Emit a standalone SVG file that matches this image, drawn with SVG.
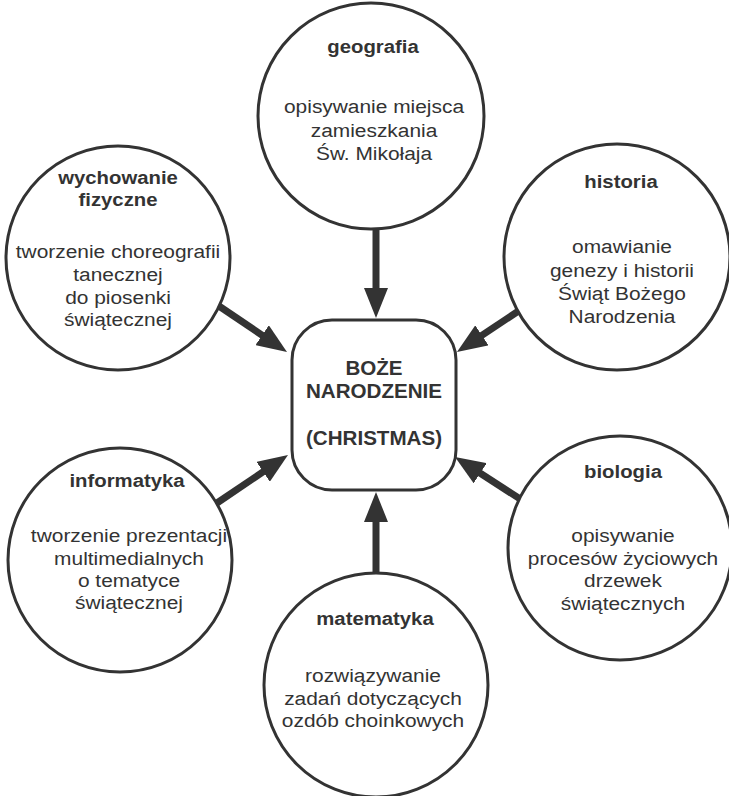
<svg xmlns="http://www.w3.org/2000/svg" width="729" height="796" viewBox="0 0 729 796">
<style>
.c{fill:#fff;stroke:#333;stroke-width:3}
.t{font-family:"Liberation Sans",Arial,sans-serif;font-size:19px;fill:#333;text-anchor:middle}
.h{font-weight:bold}
.k{font-family:"Liberation Sans",Arial,sans-serif;font-size:20px;font-weight:bold;fill:#333;text-anchor:middle}
.a{stroke:#333;stroke-width:7;fill:none;marker-end:url(#ah)}
</style>
<defs>
<marker id="ah" markerUnits="userSpaceOnUse" markerWidth="30" markerHeight="24" refX="10" refY="12" orient="auto">
<path d="M0,0 L30,12 L0,24 z" fill="#333"/>
</marker>
</defs>
<rect width="729" height="796" fill="#fff"/>
<g id="connectors">
<line class="a" x1="376" y1="200" x2="376" y2="298"/>
<line class="a" x1="376" y1="600" x2="376" y2="512"/>
<line class="a" x1="210" y1="300" x2="270.4" y2="340.8"/>
<line class="a" x1="532" y1="302" x2="473.6" y2="340.9"/>
<line class="a" x1="214" y1="505" x2="271.4" y2="466.2"/>
<line class="a" x1="534" y1="508" x2="471.8" y2="467.8"/>
</g>
<g id="center">
<rect class="c" x="292" y="320" width="164" height="170" rx="40"/>
<g transform="translate(374,0) scale(1.03,1)">
<text class="k" x="0" y="375">BOŻE</text>
<text class="k" x="0" y="398">NARODZENIE</text>
<text class="k" x="0" y="445">(CHRISTMAS)</text>
</g>
</g>
<g id="geografia">
<circle class="c" cx="371" cy="116" r="113"/>
<g transform="translate(373,0) scale(1.07,1)"><text class="t h" x="0" y="53">geografia</text></g>
<g transform="translate(374,0) scale(1.1,1)">
<text class="t" x="0" y="113">opisywanie miejsca</text>
<text class="t" x="0" y="137">zamieszkania</text>
<text class="t" x="0" y="160">Św. Mikołaja</text>
</g>
</g>
<g id="wychowanie">
<circle class="c" cx="118" cy="258" r="112"/>
<g transform="translate(118,0) scale(1.07,1)">
<text class="t h" x="0" y="184">wychowanie</text>
<text class="t h" x="0" y="206">fizyczne</text>
</g>
<g transform="translate(118,0) scale(1.1,1)">
<text class="t" x="0" y="258">tworzenie choreografii</text>
<text class="t" x="0" y="281">tanecznej</text>
<text class="t" x="0" y="304">do piosenki</text>
<text class="t" x="0" y="326">świątecznej</text>
</g>
</g>
<g id="historia">
<circle class="c" cx="617" cy="257" r="113"/>
<g transform="translate(621,0) scale(1.07,1)"><text class="t h" x="0" y="188">historia</text></g>
<g transform="translate(622,0) scale(1.1,1)">
<text class="t" x="0" y="253">omawianie</text>
<text class="t" x="0" y="277">genezy i historii</text>
<text class="t" x="0" y="300">Świąt Bożego</text>
<text class="t" x="0" y="323">Narodzenia</text>
</g>
</g>
<g id="informatyka">
<circle class="c" cx="120" cy="560" r="112"/>
<g transform="translate(127,0) scale(1.07,1)"><text class="t h" x="0" y="487">informatyka</text></g>
<g transform="translate(129,0) scale(1.1,1)">
<text class="t" x="0" y="542">tworzenie prezentacji</text>
<text class="t" x="0" y="565">multimedialnych</text>
<text class="t" x="0" y="587">o tematyce</text>
<text class="t" x="0" y="609">świątecznej</text>
</g>
</g>
<g id="biologia">
<circle class="c" cx="620" cy="548" r="112"/>
<g transform="translate(623,0) scale(1.07,1)"><text class="t h" x="0" y="478">biologia</text></g>
<g transform="translate(623,0) scale(1.1,1)">
<text class="t" x="0" y="542">opisywanie</text>
<text class="t" x="0" y="565">procesów życiowych</text>
<text class="t" x="0" y="587">drzewek</text>
<text class="t" x="0" y="610">świątecznych</text>
</g>
</g>
<g id="matematyka">
<circle class="c" cx="376" cy="685" r="112"/>
<g transform="translate(375,0) scale(1.07,1)"><text class="t h" x="0" y="625">matematyka</text></g>
<g transform="translate(373,0) scale(1.1,1)">
<text class="t" x="0" y="682">rozwiązywanie</text>
<text class="t" x="0" y="705">zadań dotyczących</text>
<text class="t" x="0" y="727">ozdób choinkowych</text>
</g>
</g>
</svg>
